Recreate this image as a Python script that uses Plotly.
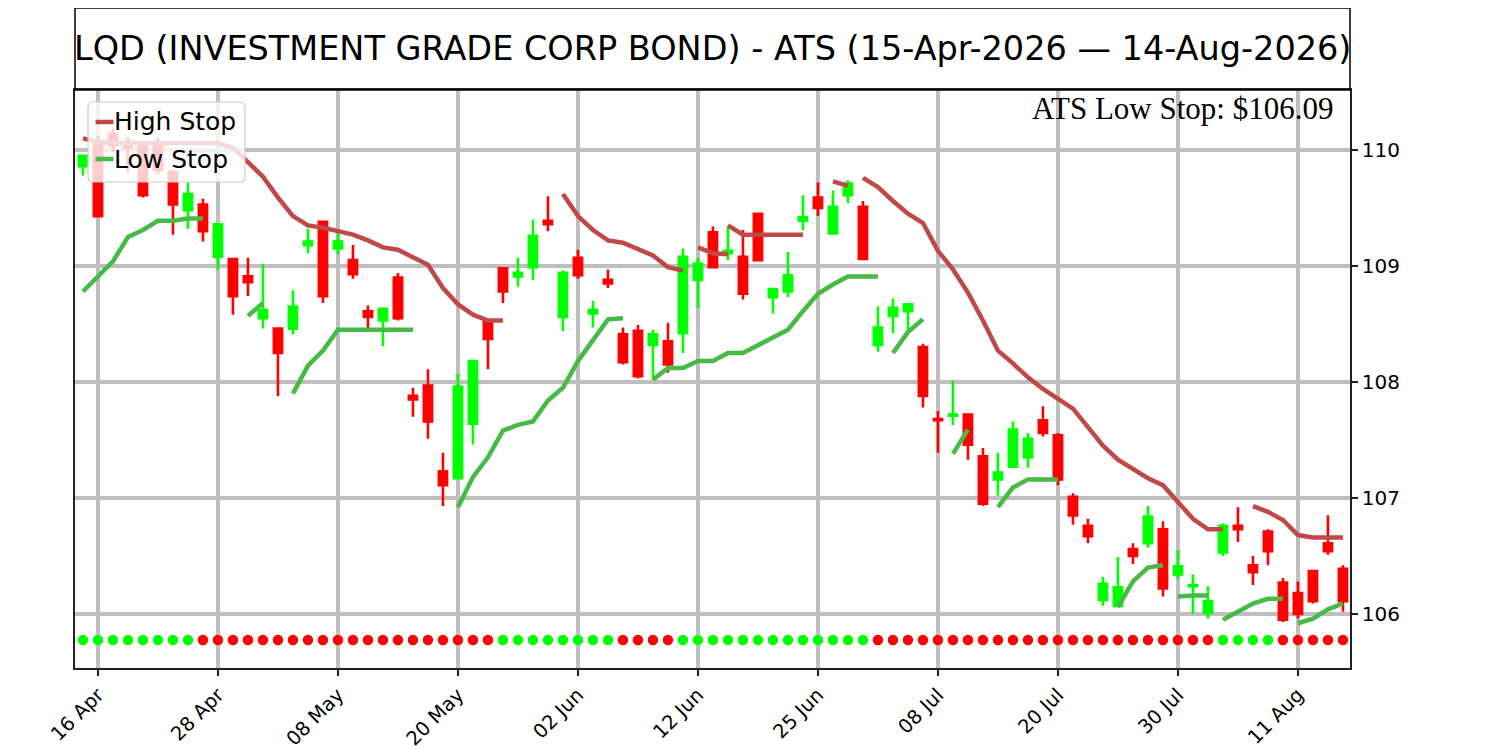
import plotly.graph_objects as go

# ---------------- data ----------------
tick_labels = ["16 Apr", "28 Apr", "08 May", "20 May", "02 Jun", "12 Jun",
               "25 Jun", "08 Jul", "20 Jul", "30 Jul", "11 Aug"]

opens = [109.86, 110.08, 110.14, 110.06, 110.03, 110.06, 109.81, 109.48, 109.53, 109.08,
         109.06, 108.91, 108.55, 108.46, 108.46, 109.18, 109.38, 109.15, 109.05, 108.61,
         108.53, 108.90, 107.88, 107.97, 107.23, 107.17, 107.64, 108.53, 108.98, 108.91,
         108.99, 109.39, 108.56, 109.07, 108.59, 108.88, 108.41, 108.44, 108.32, 108.35,
         108.42, 108.88, 109.29, 109.11, 109.08, 109.45, 108.73, 108.78, 109.39, 109.59,
         109.28, 109.61, 109.51, 108.32, 108.57, 108.61, 108.30, 107.68, 107.71, 107.72,
         107.36, 107.16, 107.27, 107.35, 107.67, 107.54, 107.01, 106.76, 106.12, 106.07,
         106.56, 106.61, 106.73, 106.34, 106.24, 106.01, 106.53, 106.76, 106.42, 106.71,
         106.27, 106.18, 106.37, 106.61, 106.39]
highs = [109.96, 110.12, 110.18, 110.11, 110.05, 110.11, 109.83, 109.72, 109.58, 109.36,
         109.06, 109.07, 109.02, 108.46, 108.79, 109.32, 109.39, 109.28, 109.18, 108.66,
         108.64, 108.94, 107.95, 108.11, 107.39, 108.07, 108.19, 108.54, 108.99, 109.07,
         109.40, 109.60, 108.96, 109.14, 108.70, 108.97, 108.47, 108.49, 108.45, 108.51,
         109.15, 109.07, 109.34, 109.34, 109.31, 109.46, 108.81, 109.12, 109.61, 109.72,
         109.65, 109.74, 109.56, 108.65, 108.72, 108.68, 108.33, 107.75, 108.01, 107.73,
         107.43, 107.39, 107.66, 107.56, 107.79, 107.56, 107.04, 106.82, 106.32, 106.49,
         106.61, 106.93, 106.80, 106.55, 106.34, 106.24, 106.78, 106.92, 106.50, 106.73,
         106.31, 106.28, 106.38, 106.85, 106.42]
lows = [109.78, 109.42, 109.98, 109.81, 109.59, 109.79, 109.27, 109.32, 109.21, 108.97,
        108.58, 108.74, 108.46, 107.88, 108.41, 109.11, 108.68, 109.10, 108.89, 108.45,
        108.31, 108.53, 107.70, 107.51, 106.93, 107.16, 107.46, 108.11, 108.68, 108.82,
        108.88, 109.30, 108.44, 108.89, 108.47, 108.81, 108.15, 108.03, 108.02, 108.08,
        108.25, 108.64, 108.98, 109.05, 108.71, 109.04, 108.59, 108.73, 109.31, 109.43,
        109.27, 109.54, 109.05, 108.26, 108.42, 108.45, 107.78, 107.39, 107.63, 107.33,
        106.93, 107.02, 107.26, 107.26, 107.53, 107.11, 106.77, 106.61, 106.07, 106.06,
        106.43, 106.57, 106.15, 106.30, 106.00, 105.96, 106.50, 106.62, 106.25, 106.42,
        105.93, 105.96, 106.09, 106.51, 106.02]
closes = [109.95, 109.43, 110.04, 110.02, 109.61, 109.83, 109.53, 109.62, 109.30, 109.36,
          108.74, 108.86, 108.62, 108.25, 108.65, 109.21, 108.74, 109.21, 108.93, 108.56,
          108.63, 108.55, 107.85, 107.66, 107.11, 107.96, 108.18, 108.37, 108.78, 108.94,
          109.26, 109.36, 108.94, 108.92, 108.62, 108.85, 108.17, 108.05, 108.41, 108.15,
          109.08, 109.02, 108.99, 109.13, 108.76, 109.05, 108.80, 108.92, 109.42, 109.50,
          109.51, 109.71, 109.06, 108.47, 108.64, 108.67, 107.88, 107.67, 107.72, 107.46,
          106.95, 107.22, 107.59, 107.51, 107.56, 107.16, 106.85, 106.67, 106.26, 106.23,
          106.50, 106.84, 106.22, 106.41, 106.25, 106.11, 106.76, 106.73, 106.36, 106.54,
          105.95, 106.00, 106.11, 106.54, 106.11]

# trend state per bar: 1 = up (green dot), 0 = down (red dot)
trend = [1, 1, 1, 1, 1, 1, 1, 1, 0, 0, 0, 0, 0, 0, 0, 0, 0, 0, 0, 0,
         0, 0, 0, 0, 0, 0, 0, 0, 1, 1, 1, 1, 1, 1, 1, 1, 0, 0, 0, 0,
         1, 1, 1, 1, 1, 1, 1, 1, 1, 1, 1, 1, 1, 0, 0, 0, 0, 0, 0, 0,
         0, 0, 0, 0, 0, 0, 0, 0, 0, 0, 0, 0, 0, 0, 0, 0, 1, 1, 1, 1,
         0, 0, 0, 0, 0]

# stop line segments: (first bar index, values)
high_stop_segments = [
    (0, [110.10, 110.07, 110.06, 110.06, 110.06, 110.06, 110.06, 110.06, 110.06, 110.06,
         110.02, 109.89, 109.77, 109.59, 109.43, 109.35, 109.33, 109.30, 109.27, 109.22,
         109.16, 109.14, 109.08, 109.01, 108.81, 108.67, 108.58, 108.53, 108.53]),
    (32, [109.62, 109.43, 109.31, 109.22, 109.20, 109.15, 109.09, 108.99, 108.96]),
    (41, [109.16, 109.11, 109.10]),
    (43, [109.35, 109.27, 109.27, 109.27, 109.27, 109.27]),
    (50, [109.73, 109.69]),
    (52, [109.76, 109.68, 109.56, 109.45, 109.37, 109.13, 108.97, 108.77, 108.53, 108.27,
          108.16, 108.04, 107.94, 107.86, 107.77, 107.61, 107.45, 107.33, 107.25, 107.17,
          107.11, 106.96, 106.82, 106.73, 106.73]),
    (78, [106.93, 106.88, 106.81, 106.68, 106.66, 106.66, 106.66]),
]
low_stop_segments = [
    (0, [108.78, 108.91, 109.04, 109.25, 109.31, 109.39, 109.39, 109.41, 109.41]),
    (11, [108.57, 108.68]),
    (14, [107.90, 108.14, 108.27, 108.45, 108.45, 108.45, 108.45, 108.45, 108.45]),
    (25, [106.92, 107.18, 107.35, 107.58, 107.63, 107.66, 107.84, 107.95, 108.18, 108.36,
          108.54, 108.55]),
    (38, [108.02, 108.12, 108.12, 108.18, 108.18, 108.25, 108.25, 108.32, 108.39, 108.45,
          108.61, 108.76, 108.84, 108.91, 108.91, 108.91]),
    (54, [108.25, 108.43, 108.54]),
    (58, [107.38, 107.59]),
    (61, [106.92, 107.09, 107.16, 107.16, 107.16]),
    (69, [106.06, 106.28, 106.40, 106.42]),
    (73, [106.15, 106.16, 106.16]),
    (76, [105.95, 106.02, 106.09, 106.13, 106.13]),
    (81, [105.92, 105.96, 106.04, 106.09]),
]
y_ticks = [106, 107, 108, 109, 110]

title_text = "LQD (INVESTMENT GRADE CORP BOND) - ATS (15-Apr-2026 \u2014 14-Aug-2026)"
stop_text = "ATS Low Stop: $106.09"
legend_names = ["High Stop", "Low Stop"]

# ---------------- styling ----------------
GREEN = "#00ff00"
RED = "#ff0000"
HIGH_COL = "#c04848"
LOW_COL = "#46b946"
GRID = "#bfbfbf"
AX = "#222222"
dot_level = 105.776

# figure geometry (page has an 8px body margin)
W, H = 1492, 742
ML, MR, MT, MB = 67, 150, 82, 82
PW = W - ML - MR
PH = H - MT - MB


def px(fx):
    return (fx - ML) / PW


def py(fy):
    return (H - MB - fy) / PH


n = len(opens)
idx = list(range(n))


def seg_xy(segments):
    xs, ys = [], []
    for start, vals in segments:
        xs += list(range(start, start + len(vals))) + [None]
        ys += list(vals) + [None]
    return xs, ys


hx, hy = seg_xy(high_stop_segments)
lx, ly = seg_xy(low_stop_segments)

fig = go.Figure()
fig.add_trace(go.Candlestick(
    x=idx, open=opens, high=highs, low=lows, close=closes,
    increasing=dict(line=dict(color=GREEN, width=2.6), fillcolor=GREEN),
    decreasing=dict(line=dict(color=RED, width=2.6), fillcolor=RED),
    whiskerwidth=0, showlegend=False, name="LQD"))
fig.add_trace(go.Scatter(x=hx, y=hy, mode="lines", name=legend_names[0], showlegend=False,
                         line=dict(color=HIGH_COL, width=4.5), connectgaps=False))
fig.add_trace(go.Scatter(x=lx, y=ly, mode="lines", name=legend_names[1], showlegend=False,
                         line=dict(color=LOW_COL, width=4.5), connectgaps=False))
fig.add_trace(go.Scatter(x=idx, y=[dot_level] * n, mode="markers", showlegend=False,
                         marker=dict(size=10.5, color=[GREEN if t else RED for t in trend],
                                     line=dict(width=0))))

# legend box (rounded) drawn as shapes + text annotations
bx0, bx1, by0, by1 = px(80), px(237), py(174), py(94)
rx, ry = 5 / PW, 5 / PH
legend_path = (f"M {bx0+rx},{by1} L {bx1-rx},{by1} Q {bx1},{by1} {bx1},{by1-ry} "
               f"L {bx1},{by0+ry} Q {bx1},{by0} {bx1-rx},{by0} L {bx0+rx},{by0} "
               f"Q {bx0},{by0} {bx0},{by0+ry} L {bx0},{by1-ry} Q {bx0},{by1} {bx0+rx},{by1} Z")
legend_rows = [(114, HIGH_COL), (151, LOW_COL)]

shapes = [
    dict(type="rect", xref="paper", yref="paper", x0=0, x1=1,
         y0=1, y1=1 + 82 / PH, line=dict(color="black", width=1.5),
         fillcolor="rgba(0,0,0,0)", layer="above"),
    dict(type="path", xref="paper", yref="paper", path=legend_path,
         fillcolor="rgba(255,255,255,0.8)", line=dict(color="#cccccc", width=1.2),
         layer="above"),
]
annotations = [
    dict(text=title_text, xref="paper", yref="paper", x=0.5, y=1 + 41 / PH,
         xanchor="center", yanchor="middle", showarrow=False,
         font=dict(size=33.5, family="DejaVu Sans", color="black")),
    dict(text=stop_text, xref="paper", yref="paper", x=px(1327), y=py(101),
         xanchor="right", yanchor="middle", showarrow=False,
         font=dict(size=31, family="Liberation Serif", color="black")),
]
for name, (fy, col) in zip(legend_names, legend_rows):
    shapes.append(dict(type="line", xref="paper", yref="paper",
                       x0=px(87.5), x1=px(105.5), y0=py(fy), y1=py(fy),
                       line=dict(color=col, width=4.5), layer="above"))
    annotations.append(dict(text=name, xref="paper", yref="paper", x=px(104), y=py(fy),
                            xanchor="left", yanchor="middle", showarrow=False,
                            font=dict(size=25, family="DejaVu Sans", color="black")))

fig.update_layout(
    width=W, height=H,
    margin=dict(l=ML, r=MR, t=MT, b=MB, pad=0, autoexpand=False),
    paper_bgcolor="white", plot_bgcolor="white",
    font=dict(family="DejaVu Sans", color="black"),
    boxgap=0.45, boxgroupgap=0,
    showlegend=False,
    xaxis=dict(range=[-0.53, 84.47], tickmode="array", automargin=False,
               tickvals=list(range(1, n, 8)), ticktext=tick_labels, tickangle=-45,
               showgrid=True, gridcolor=GRID, gridwidth=3.8, zeroline=False,
               showline=True, mirror=True, linecolor=AX, linewidth=1.6,
               ticks="outside", ticklen=6, tickwidth=1.6, tickcolor=AX,
               tickfont=dict(size=19.5, family="DejaVu Sans", color="black"),
               rangeslider=dict(visible=False), fixedrange=True),
    yaxis=dict(range=[105.534, 110.517], side="right", tickmode="array", automargin=False,
               tickvals=y_ticks, ticktext=[str(v) for v in y_ticks],
               showgrid=True, gridcolor=GRID, gridwidth=3.8, zeroline=False,
               showline=True, mirror=True, linecolor=AX, linewidth=1.6,
               ticks="outside", ticklen=6, tickwidth=1.6, tickcolor=AX,
               tickfont=dict(size=20, family="DejaVu Sans", color="black"),
               fixedrange=True),
    shapes=shapes,
    annotations=annotations,
)

fig.write_html("out.html")
